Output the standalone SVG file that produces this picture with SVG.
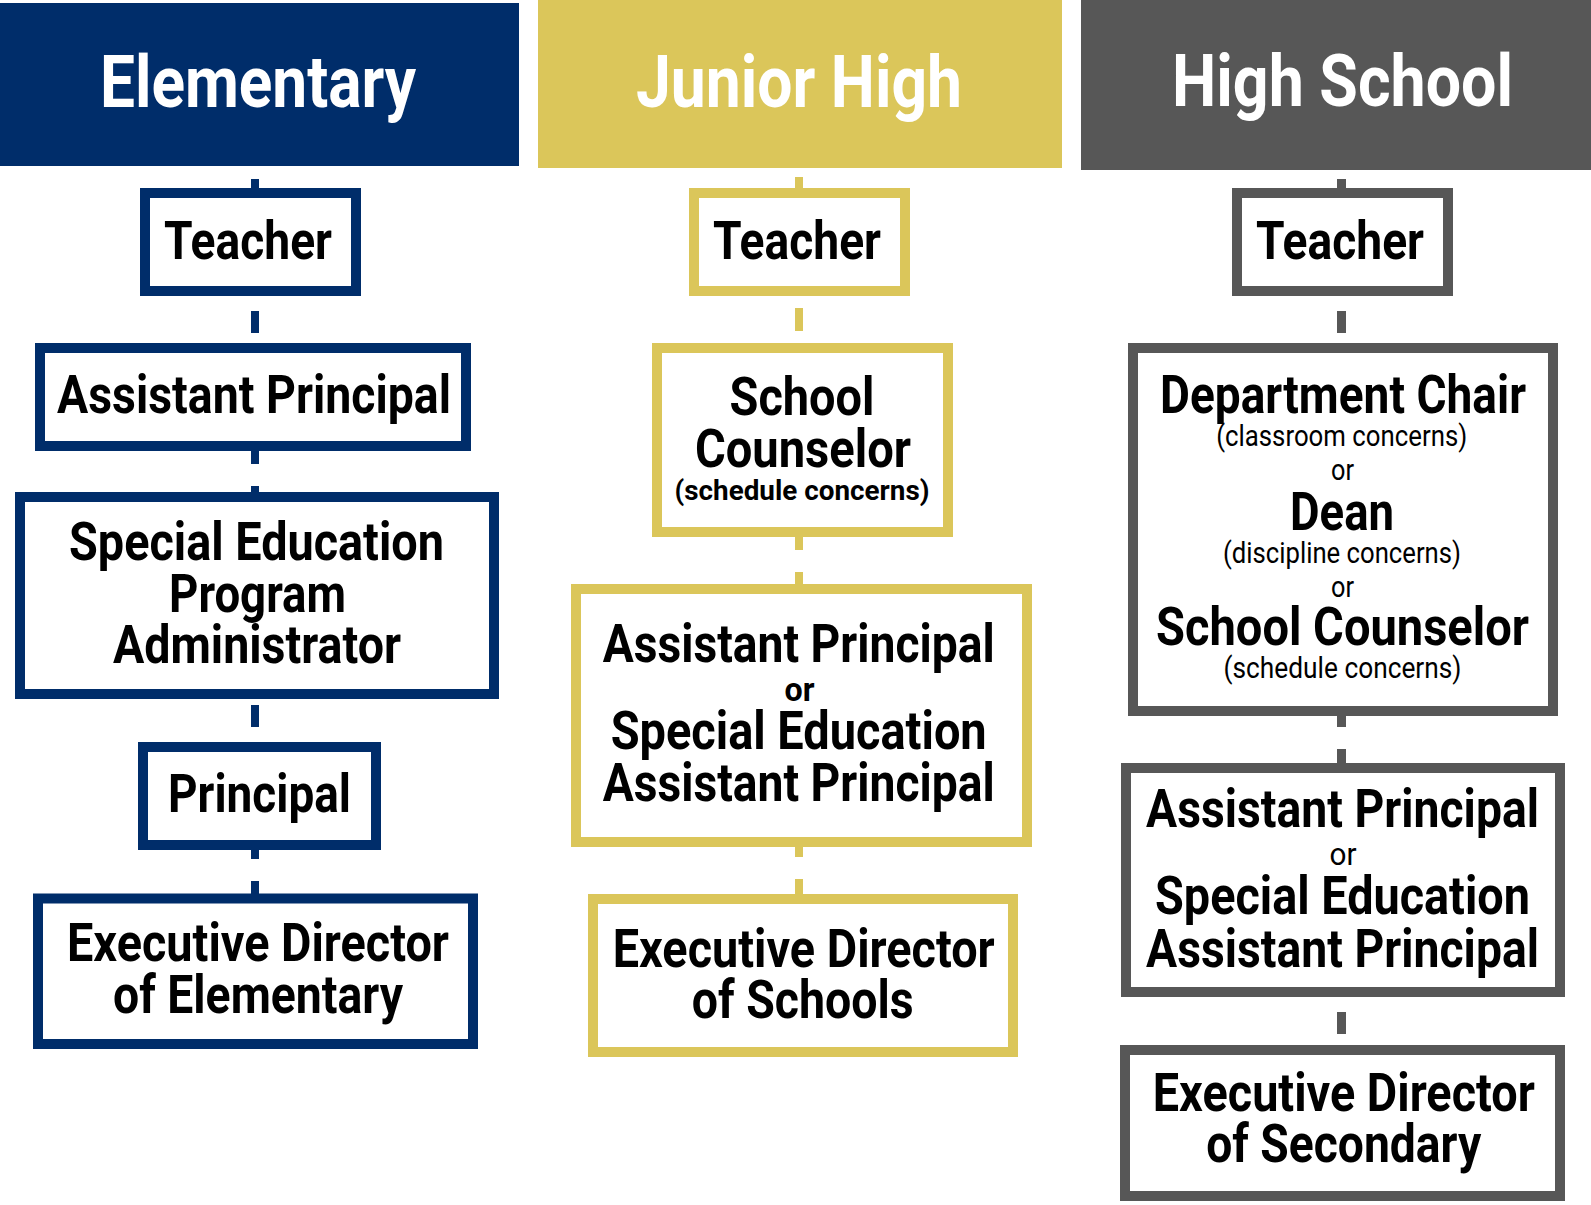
<svg xmlns="http://www.w3.org/2000/svg" width="1591" height="1205" viewBox="0 0 1591 1205">
<style>
.bg{fill:#ffffff}
.nv{fill:#002d6a}
.gd{fill:#dbc65a}
.gy{fill:#575757}
.bn{fill:#ffffff;stroke:#002d6a;stroke-width:10}
.bg2{fill:#ffffff;stroke:#dbc65a;stroke-width:10}
.by{fill:#ffffff;stroke:#575757;stroke-width:10}
text{font-family:"Liberation Sans Narrow","Roboto","Liberation Sans",sans-serif;font-weight:bold;text-anchor:middle;fill:#000000}
.h{font-size:73px;fill:#ffffff}
.m{font-size:53px}
.sb{font-size:28px}
.ob{font-size:34px}
.sr{font-size:30px;font-weight:normal}
.or{font-size:32px;font-weight:normal}
</style>
<rect class="bg" x="0" y="0" width="1591" height="1205"/>

<g id="header-elementary">
<rect class="nv" x="0" y="3" width="519" height="163"/>
<text class="h" x="258" y="107" textLength="316" lengthAdjust="spacingAndGlyphs">Elementary</text>
</g>
<g id="header-junior-high">
<rect class="gd" x="538" y="0" width="524" height="168"/>
<text class="h" x="799" y="107" textLength="326" lengthAdjust="spacingAndGlyphs">Junior High</text>
</g>
<g id="header-high-school">
<rect class="gy" x="1081" y="0" width="510" height="170"/>
<text class="h" x="1342.5" y="106" textLength="341" lengthAdjust="spacingAndGlyphs">High School</text>
</g>

<g id="connectors">
<rect class="nv" x="251" y="179" width="8" height="9"/>
<rect class="nv" x="251" y="311" width="8" height="22"/>
<rect class="nv" x="251" y="451" width="8" height="13"/>
<rect class="nv" x="251" y="486" width="8" height="7"/>
<rect class="nv" x="251" y="705" width="8" height="22"/>
<rect class="nv" x="251" y="850" width="8" height="9"/>
<rect class="nv" x="251" y="881" width="8" height="13"/>
<rect class="gd" x="795" y="177" width="8" height="11"/>
<rect class="gd" x="795" y="308" width="8" height="23"/>
<rect class="gd" x="795" y="537" width="8" height="13"/>
<rect class="gd" x="795" y="572" width="8" height="12"/>
<rect class="gd" x="795" y="847" width="8" height="10"/>
<rect class="gd" x="795" y="879" width="8" height="15"/>
<rect class="gy" x="1337" y="179" width="9" height="9"/>
<rect class="gy" x="1337" y="311" width="9" height="22"/>
<rect class="gy" x="1337" y="716" width="9" height="11"/>
<rect class="gy" x="1337" y="749" width="9" height="14"/>
<rect class="gy" x="1337" y="1012" width="9" height="22"/>
</g>

<g id="el-teacher">
<rect class="bn" x="145" y="193" width="211" height="98"/>
<text class="m" x="248" y="258.7" textLength="168" lengthAdjust="spacingAndGlyphs">Teacher</text>
</g>
<g id="el-assistant-principal">
<rect class="bn" x="40" y="348" width="426" height="98"/>
<text class="m" x="254" y="413.3" textLength="394" lengthAdjust="spacingAndGlyphs">Assistant Principal</text>
</g>
<g id="el-sped-admin">
<rect class="bn" x="20" y="497" width="474" height="197"/>
<text class="m" x="256.5" y="560" textLength="375" lengthAdjust="spacingAndGlyphs">Special Education</text>
<text class="m" x="257.5" y="611.7" textLength="177" lengthAdjust="spacingAndGlyphs">Program</text>
<text class="m" x="257" y="663.4" textLength="288" lengthAdjust="spacingAndGlyphs">Administrator</text>
</g>
<g id="el-principal">
<rect class="bn" x="143" y="747" width="233" height="98"/>
<text class="m" x="259.5" y="812.1" textLength="183" lengthAdjust="spacingAndGlyphs">Principal</text>
</g>
<g id="el-exec-director">
<rect class="bn" x="38" y="898.5" width="435" height="145.5"/>
<text class="m" x="258" y="961.2" textLength="382" lengthAdjust="spacingAndGlyphs">Executive Director</text>
<text class="m" x="258" y="1013" textLength="290" lengthAdjust="spacingAndGlyphs">of Elementary</text>
</g>

<g id="jh-teacher">
<rect class="bg2" x="694" y="193" width="211" height="98"/>
<text class="m" x="797" y="258.7" textLength="168" lengthAdjust="spacingAndGlyphs">Teacher</text>
</g>
<g id="jh-school-counselor">
<rect class="bg2" x="657" y="348" width="291" height="184"/>
<text class="m" x="802" y="415" textLength="145" lengthAdjust="spacingAndGlyphs">School</text>
<text class="m" x="803" y="466.7" textLength="216" lengthAdjust="spacingAndGlyphs">Counselor</text>
<text class="sb" x="802" y="500" textLength="255" lengthAdjust="spacingAndGlyphs">(schedule concerns)</text>
</g>
<g id="jh-assistant-principal">
<rect class="bg2" x="576" y="589" width="451" height="253"/>
<text class="m" x="798.7" y="661.7" textLength="392" lengthAdjust="spacingAndGlyphs">Assistant Principal</text>
<text class="ob" x="799.5" y="700.7" textLength="30" lengthAdjust="spacingAndGlyphs">or</text>
<text class="m" x="798.7" y="749.3" textLength="376" lengthAdjust="spacingAndGlyphs">Special Education</text>
<text class="m" x="798.7" y="800.7" textLength="392" lengthAdjust="spacingAndGlyphs">Assistant Principal</text>
</g>
<g id="jh-exec-director">
<rect class="bg2" x="593" y="899" width="420" height="153"/>
<text class="m" x="803.7" y="967.3" textLength="382" lengthAdjust="spacingAndGlyphs">Executive Director</text>
<text class="m" x="802.7" y="1018.3" textLength="222" lengthAdjust="spacingAndGlyphs">of Schools</text>
</g>

<g id="hs-teacher">
<rect class="by" x="1237" y="193" width="211" height="98"/>
<text class="m" x="1340" y="258.7" textLength="168" lengthAdjust="spacingAndGlyphs">Teacher</text>
</g>
<g id="hs-chair-dean-counselor">
<rect class="by" x="1133" y="348" width="420" height="363"/>
<text class="m" x="1343" y="413.3" textLength="366" lengthAdjust="spacingAndGlyphs">Department Chair</text>
<text class="sr" x="1341.7" y="446" textLength="251" lengthAdjust="spacingAndGlyphs">(classroom concerns)</text>
<text class="sr" x="1342.5" y="480" textLength="23" lengthAdjust="spacingAndGlyphs">or</text>
<text class="m" x="1342" y="530" textLength="104" lengthAdjust="spacingAndGlyphs">Dean</text>
<text class="sr" x="1342" y="563" textLength="238" lengthAdjust="spacingAndGlyphs">(discipline concerns)</text>
<text class="sr" x="1342.5" y="596.7" textLength="23" lengthAdjust="spacingAndGlyphs">or</text>
<text class="m" x="1342.5" y="645" textLength="373" lengthAdjust="spacingAndGlyphs">School Counselor</text>
<text class="sr" x="1342.5" y="678.3" textLength="238" lengthAdjust="spacingAndGlyphs">(schedule concerns)</text>
</g>
<g id="hs-assistant-principal">
<rect class="by" x="1126" y="768" width="434" height="224"/>
<text class="m" x="1342.5" y="826.7" textLength="393" lengthAdjust="spacingAndGlyphs">Assistant Principal</text>
<text class="or" x="1343" y="865" textLength="27" lengthAdjust="spacingAndGlyphs">or</text>
<text class="m" x="1342.5" y="914" textLength="375" lengthAdjust="spacingAndGlyphs">Special Education</text>
<text class="m" x="1342.5" y="966.7" textLength="393" lengthAdjust="spacingAndGlyphs">Assistant Principal</text>
</g>
<g id="hs-exec-director">
<rect class="by" x="1125" y="1050" width="435" height="146"/>
<text class="m" x="1343.8" y="1110.7" textLength="382" lengthAdjust="spacingAndGlyphs">Executive Director</text>
<text class="m" x="1343.7" y="1161.7" textLength="275" lengthAdjust="spacingAndGlyphs">of Secondary</text>
</g>
</svg>
